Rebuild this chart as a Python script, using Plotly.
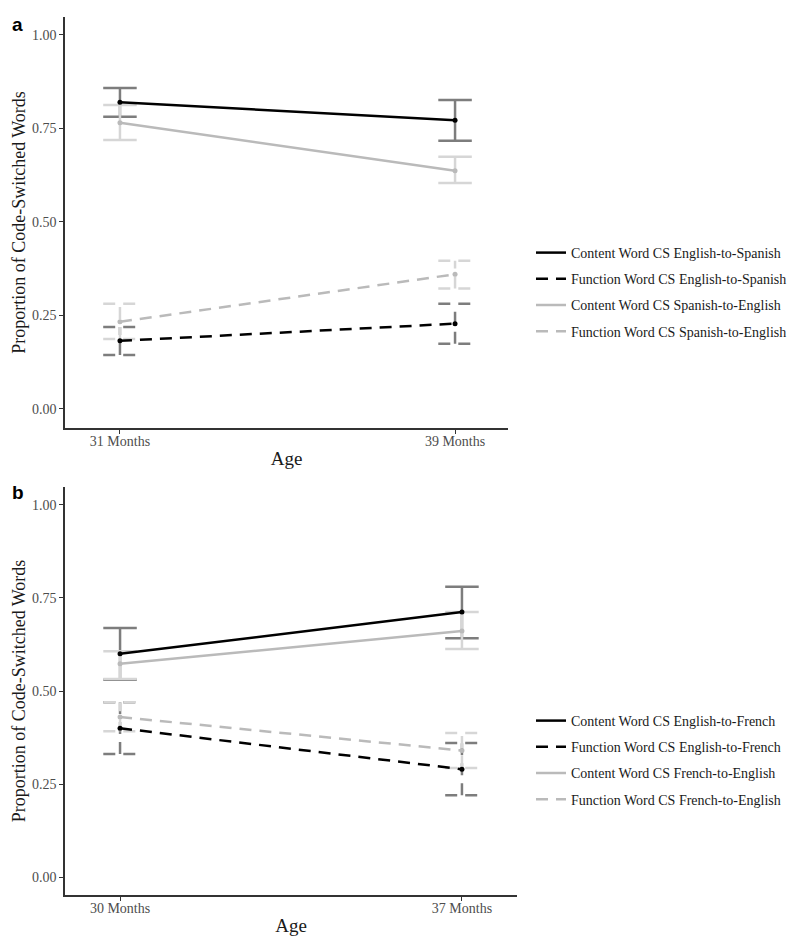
import plotly.graph_objects as go

# painel a: espanhol
ages_a = ["31 Months", "39 Months"]
names_a = ["Content Word CS English-to-Spanish", "Function Word CS English-to-Spanish",
           "Content Word CS Spanish-to-English", "Function Word CS Spanish-to-English"]
mean_a = [[0.820, 0.772], [0.182, 0.228], [0.765, 0.637], [0.233, 0.360]]
low_a = [[0.781, 0.717], [0.144, 0.174], [0.719, 0.604], [0.187, 0.322]]
high_a = [[0.858, 0.826], [0.219, 0.281], [0.813, 0.674], [0.281, 0.396]]

# painel b: francês
ages_b = ["30 Months", "37 Months"]
names_b = ["Content Word CS English-to-French", "Function Word CS English-to-French",
           "Content Word CS French-to-English", "Function Word CS French-to-English"]
mean_b = [[0.600, 0.712], [0.400, 0.290], [0.573, 0.661], [0.430, 0.340]]
low_b = [[0.530, 0.642], [0.331, 0.220], [0.532, 0.613], [0.392, 0.293]]
high_b = [[0.669, 0.780], [0.470, 0.360], [0.607, 0.712], [0.470, 0.387]]

yticks = [0, 0.25, 0.5, 0.75, 1.0]

line_colors = ["#000000", "#000000", "#bababa", "#bababa"]
err_colors = ["#7d7d7d", "#7d7d7d", "#d6d6d6", "#d6d6d6"]
dashes = ["solid", "12px,8px", "solid", "12px,8px"]

FONT = "Liberation Serif"
W, H = 800, 945
OFF = 8  # margem do body da página html


def fx(p):
    return (p - OFF) / W


def fy(p):
    return 1 - (p - OFF) / H


fig = go.Figure()


def add_panel(names, mean, low, high, xa, ya, leg, cap):
    xs = [0, 1]
    # barras de erro desenhadas à mão (tracejadas como no original)
    for i, nm in enumerate(names):
        ex, ey = [], []
        for j, xv in enumerate(xs):
            ex += [xv, xv, None, xv - cap, xv + cap, None, xv - cap, xv + cap, None]
            ey += [low[i][j], high[i][j], None, low[i][j], low[i][j], None,
                   high[i][j], high[i][j], None]
        fig.add_trace(go.Scatter(x=ex, y=ey, mode='lines', xaxis=xa, yaxis=ya,
                                 line=dict(color=err_colors[i], width=2.5, dash=dashes[i]),
                                 showlegend=False, hoverinfo='skip'))
    for i, nm in enumerate(names):
        fig.add_trace(go.Scatter(x=xs, y=mean[i], mode='lines', name=nm,
                                 xaxis=xa, yaxis=ya, legend=leg, legendgroup=leg + str(i),
                                 line=dict(color=line_colors[i], width=2.5, dash=dashes[i])))
        fig.add_trace(go.Scatter(x=xs, y=mean[i], mode='markers', showlegend=False,
                                 xaxis=xa, yaxis=ya, legendgroup=leg + str(i),
                                 marker=dict(size=5, color=line_colors[i])))


add_panel(names_a, mean_a, low_a, high_a, 'x', 'y', 'legend', 0.05)
add_panel(names_b, mean_b, low_b, high_b, 'x2', 'y2', 'legend2', 0.049)

axis_common = dict(showline=True, linecolor='#333333', linewidth=1.5, ticks='outside',
                   ticklen=4, tickcolor='#333333', showgrid=False, zeroline=False,
                   automargin=False,
                   tickfont=dict(family=FONT, size=14, color='#4d4d4d'))

xtitle = dict(text='Age', font=dict(size=19, family=FONT, color='#1a1a1a'), standoff=4)
ytitle = dict(text='Proportion of Code-Switched Words', font=dict(size=18, family=FONT, color='#1a1a1a'),
              standoff=2)
legfont = dict(family=FONT, size=14, color='#1a1a1a')

fig.update_layout(
    width=W, height=H, margin=dict(l=0, r=0, t=0, b=0),
    paper_bgcolor='white', plot_bgcolor='white',
    font=dict(family=FONT, color='#1a1a1a'),
    xaxis=dict(domain=[fx(65), fx(508)], range=[-0.164, 1.158], anchor='y',
               tickvals=[0, 1], ticktext=ages_a, title=xtitle, ticklabelstandoff=-5, **axis_common),
    yaxis=dict(domain=[fy(428), fy(17)], range=[-0.051, 1.048], anchor='x',
               tickvals=yticks, tickformat='.2f', title=ytitle, **axis_common),
    xaxis2=dict(domain=[fx(65), fx(517)], range=[-0.161, 1.161], anchor='y2',
                tickvals=[0, 1], ticktext=ages_b, title=xtitle, ticklabelstandoff=-5, **axis_common),
    yaxis2=dict(domain=[fy(895), fy(487)], range=[-0.048, 1.048], anchor='x2',
                tickvals=yticks, tickformat='.2f', title=ytitle, **axis_common),
    legend=dict(x=fx(531), y=fy(237), xanchor='left', yanchor='top', traceorder='grouped',
                tracegroupgap=5, font=legfont, bgcolor='rgba(0,0,0,0)', itemwidth=30),
    legend2=dict(x=fx(531), y=fy(705), xanchor='left', yanchor='top', traceorder='grouped',
                 tracegroupgap=5, font=legfont, bgcolor='rgba(0,0,0,0)', itemwidth=30),
    annotations=[
        dict(text='<b>a</b>', x=fx(10), y=fy(12), xref='paper', yref='paper',
             xanchor='left', yanchor='top', showarrow=False,
             font=dict(family='Liberation Sans', size=19, color='black')),
        dict(text='<b>b</b>', x=fx(10), y=fy(480), xref='paper', yref='paper',
             xanchor='left', yanchor='top', showarrow=False,
             font=dict(family='Liberation Sans', size=19, color='black')),
    ],
)

fig.write_html("out.html")
